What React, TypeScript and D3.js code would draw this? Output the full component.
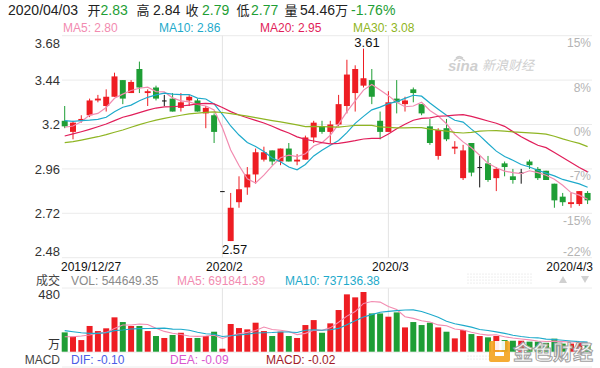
import React from 'react';
import * as d3 from 'd3';

// daily candles, 2019/12/27 .. 2020/4/3
const opens = [
  3.22, 3.16, 3.22, 3.25, 3.33, 3.30, 3.35, 3.44, 3.37, 3.50,
  3.37, 3.40, 3.33, 3.34, 3.29, 3.33, 3.33, 3.26, 3.25, 2.84,
  2.57, 2.78, 2.86, 2.93, 3.01, 3.06, 3.00, 3.07, 3.00, 3.01,
  3.13, 3.19, 3.16, 3.20, 3.30, 3.37, 3.41, 3.44, 3.22, 3.16,
  3.34, 3.31, 3.39, 3.31, 3.19, 3.03, 3.18, 3.07, 2.91, 3.10,
  2.97, 2.99, 2.91, 2.99, 2.92, 2.94, 3.00, 2.96, 2.95, 2.88,
  2.81, 2.77, 2.77, 2.83,
];
const closes = [
  3.19, 3.21, 3.23, 3.33, 3.34, 3.35, 3.46, 3.34, 3.43, 3.40,
  3.38, 3.34, 3.33, 3.27, 3.32, 3.35, 3.27, 3.29, 3.16, 2.84,
  2.75, 2.85, 2.93, 3.05, 3.05, 3.00, 3.07, 3.00, 3.01, 3.13,
  3.21, 3.16, 3.20, 3.31, 3.47, 3.50, 3.45, 3.35, 3.16, 3.32,
  3.32, 3.33, 3.37, 3.26, 3.10, 3.17, 3.12, 3.08, 3.06, 2.94,
  2.97, 2.90, 2.96, 2.97, 2.90, 2.94, 2.98, 2.91, 2.90, 2.79,
  2.78, 2.78, 2.84, 2.79,
];
const highs = [
  3.30, 3.22, 3.25, 3.34, 3.36, 3.39, 3.48, 3.44, 3.44, 3.54,
  3.39, 3.41, 3.36, 3.37, 3.37, 3.36, 3.34, 3.30, 3.26, 2.84,
  2.83, 2.92, 2.97, 3.07, 3.08, 3.06, 3.07, 3.10, 3.04, 3.14,
  3.22, 3.22, 3.22, 3.36, 3.55, 3.52, 3.61, 3.50, 3.27, 3.38,
  3.44, 3.35, 3.40, 3.31, 3.23, 3.18, 3.23, 3.11, 3.09, 3.10,
  3.03, 3.03, 2.97, 3.00, 2.96, 2.96, 3.01, 2.97, 2.95, 2.88,
  2.83, 2.83, 2.84, 2.84,
];
const lows = [
  3.18, 3.12, 3.21, 3.24, 3.32, 3.27, 3.35, 3.31, 3.37, 3.37,
  3.30, 3.33, 3.30, 3.27, 3.27, 3.30, 3.27, 3.18, 3.10, 2.84,
  2.57, 2.75, 2.82, 2.88, 3.00, 2.98, 2.98, 3.00, 2.98, 3.01,
  3.10, 3.15, 3.10, 3.19, 3.26, 3.27, 3.40, 3.31, 3.12, 3.16,
  3.26, 3.27, 3.32, 3.25, 3.09, 3.01, 3.11, 3.04, 2.90, 2.92,
  2.86, 2.89, 2.84, 2.92, 2.88, 2.88, 2.96, 2.90, 2.90, 2.75,
  2.76, 2.75, 2.76, 2.77,
];
// volume in 万手
const volumes = [
  148, 115, 89, 197, 158, 179, 263, 227, 197, 197,
  158, 120, 105, 128, 145, 105, 105, 120, 153, 23,
  212, 181, 171, 222, 158, 120, 153, 120, 105, 204,
  242, 145, 217, 319, 439, 416, 457, 293, 293, 268,
  301, 186, 227, 204, 222, 186, 153, 102, 166, 135,
  120, 110, 120, 89, 84, 84, 77, 77, 68, 100,
  62, 62, 68, 54.46,
];

// MA values for the first days (window starts before the view)
const ma5Lead = [3.185, 3.192, 3.215, 3.251];
const ma10Lead = [3.221, 3.217, 3.221, 3.224, 3.228, 3.239, 3.269, 3.293, 3.305];
const ma20Lead = [
  3.138, 3.149, 3.161, 3.174, 3.188, 3.203, 3.221, 3.239, 3.251, 3.264,
  3.278, 3.289, 3.295, 3.296, 3.300, 3.305, 3.311, 3.314, 3.311,
];
const ma30Lead = [
  3.102, 3.107, 3.116, 3.125, 3.134, 3.145, 3.158, 3.170, 3.185, 3.199,
  3.212, 3.224, 3.233, 3.242, 3.250, 3.257, 3.262, 3.266, 3.268, 3.265,
  3.259, 3.252, 3.245, 3.237, 3.229, 3.221, 3.214, 3.206, 3.198,
];
const volMa5Lead = [115, 115, 120, 128];
const volMa10Lead = [161, 153, 145, 140, 140, 145, 161, 166, 174];

const priceTicks = [3.68, 3.44, 3.2, 2.96, 2.72, 2.48];
const priceTickLabels = ['3.68', '3.44', '3.2', '2.96', '2.72', '2.48'];
const pctTickLabels = ['15%', '8%', '0%', '-7%', '-15%', '-22%'];
const dateTickIdx = [0, 19, 39, 63];
const dateTickLabels = ['2019/12/27', '2020/2', '2020/3', '2020/4/3'];

const FONT = '"Liberation Sans", Arial, "Noto Sans CJK SC", sans-serif';
const CJK = '"Noto Sans CJK SC", "Liberation Sans", sans-serif';
const RED = '#ee1d23';
const GREEN = '#1e9e35';
const C_MA5 = '#f28bb0';
const C_MA10 = '#1eaacb';
const C_MA20 = '#e11e5a';
const C_MA30 = '#8fb523';

const movingAvg = (vals: number[], n: number, lead: number[]) =>
  vals.map((_, i) => (i < n - 1 ? lead[i] : (d3.mean(vals.slice(i - n + 1, i + 1)) as number)));

const App = () => {
  const n = opens.length;
  const x = d3.scaleBand<number>().domain(d3.range(n)).range([60.55, 591.75])
    .paddingInner(0.28).paddingOuter(0.14);
  const bw = x.bandwidth();
  const cx = (i: number) => (x(i) as number) + bw / 2;
  const y = d3.scaleLinear().domain([2.48, 3.68]).range([257.7, 35.7]);
  const vy = d3.scaleLinear().domain([0, 480]).range([351.7, 289]);
  const left = 62, right = 592;

  const priceLine = d3.line<number>().x((_, i) => cx(i)).y(v => y(v));
  const volLine = d3.line<number>().x((_, i) => cx(i)).y(v => vy(v));

  const maLines = [
    { vals: movingAvg(closes, 5, ma5Lead), color: C_MA5 },
    { vals: movingAvg(closes, 10, ma10Lead), color: C_MA10 },
    { vals: movingAvg(closes, 20, ma20Lead), color: C_MA20 },
    { vals: movingAvg(closes, 30, ma30Lead), color: C_MA30 },
  ];
  const volMa5 = movingAvg(volumes, 5, volMa5Lead);
  const volMa10 = movingAvg(volumes, 10, volMa10Lead);

  const hiIdx = d3.maxIndex(highs);
  const loIdx = d3.minIndex(lows);

  const candleColor = (i: number) =>
    closes[i] > opens[i] ? RED : closes[i] < opens[i] ? GREEN : '#111';

  // dotted scroll hints near the right
  const dots: JSX.Element[] = [];
  for (let r = 0; r < 4; r++) {
    for (let c = 0; c < 22; c++) {
      dots.push(<circle key={`d${r}-${c}`} cx={468 + c * 3} cy={274 + r * 3} r={0.6} fill="#d8d8d8" />);
    }
  }
  for (let r = 0; r < 2; r++) {
    for (let c = 0; c < 10; c++) {
      dots.push(<circle key={`e${r}-${c}`} cx={468 + c * 3} cy={356 + r * 3} r={0.6} fill="#d8d8d8" />);
    }
  }

  return (
    <svg width={600} height={368} style={{ position: 'absolute', left: 0, top: 0, background: '#fff' }}
      fontFamily={FONT}>
      {/* header */}
      <g fontSize={14}>
        <text x={8} y={15} fill="#222">2020/04/03</text>
        <text x={87.5} y={15} fill="#222" fontFamily={CJK} fontSize={13}>开</text>
        <text x={100.5} y={15} fill={GREEN}>2.83</text>
        <text x={136.5} y={15} fill="#222" fontFamily={CJK} fontSize={13}>高</text>
        <text x={153} y={15} fill="#222">2.84</text>
        <text x={185.5} y={15} fill="#222" fontFamily={CJK} fontSize={13}>收</text>
        <text x={202} y={15} fill={GREEN}>2.79</text>
        <text x={236.5} y={15} fill="#222" fontFamily={CJK} fontSize={13}>低</text>
        <text x={251} y={15} fill={GREEN}>2.77</text>
        <text x={284.5} y={15} fill="#222" fontFamily={CJK} fontSize={13}>量</text>
        <text x={300} y={15} fill="#222">54.46<tspan fontFamily={CJK} fontSize={13}>万</tspan></text>
        <text x={351} y={15} fill={GREEN}>-1.76%</text>
      </g>
      <g fontSize={12}>
        <text x={63} y={31.5} fill={C_MA5}>MA5: 2.80</text>
        <text x={159} y={31.5} fill={C_MA10}>MA10: 2.86</text>
        <text x={260} y={31.5} fill={C_MA20}>MA20: 2.95</text>
        <text x={353} y={31.5} fill={C_MA30}>MA30: 3.08</text>
      </g>

      {/* price grid */}
      {priceTicks.map(t => (
        <line key={`g${t}`} x1={left} x2={right} y1={y(t)} y2={y(t)} stroke="#ebebeb" strokeWidth={1} />
      ))}
      {dateTickIdx.slice(1, 3).map(i => (
        <g key={`v${i}`}>
          <line x1={cx(i)} x2={cx(i)} y1={y(3.68)} y2={y(2.48)} stroke="#e4e4e4" />
          <line x1={cx(i)} x2={cx(i)} y1={288} y2={vy(0)} stroke="#e4e4e4" />
        </g>
      ))}
      {priceTicks.map((t, k) => {
        const last = k === priceTicks.length - 1;
        const yy = k === 0 ? y(t) + 12 : last ? y(t) - 1.5 : y(t) + 4.7;
        return <text key={`pl${t}`} x={60} y={yy} textAnchor="end" fontSize={13} fill="#333">{priceTickLabels[k]}</text>;
      })}
      {priceTicks.map((t, k) => {
        const last = k === priceTicks.length - 1;
        const yy = last ? y(t) - 1.8 : y(t) + 11.5;
        return <text key={`pc${t}`} x={591} y={yy} textAnchor="end" fontSize={12} fill="#b4b4b4">{pctTickLabels[k]}</text>;
      })}

      {/* sina watermark */}
      <g fill="#cfcfcf" fontStyle="italic">
        <path d="M454,61 q5,-6 11,0 M456,58 q3,-3 7,0" fill="none" stroke="#cfcfcf" strokeWidth={1.3} />
        <text x={448} y={71} fontSize={15} fontWeight="bold">sina</text>
        <text x={482} y={70} fontSize={13} fontFamily={CJK}>新浪财经</text>
      </g>

      {/* candles */}
      {opens.map((o, i) => {
        const c = closes[i];
        const col = candleColor(i);
        const top = y(Math.max(o, c));
        const h = Math.max(1, y(Math.min(o, c)) - top);
        const doji = o === c;
        return (
          <g key={`c${i}`}>
            <line x1={cx(i)} x2={cx(i)} y1={y(highs[i])} y2={y(lows[i])} stroke={col} strokeWidth={1} />
            <rect x={doji ? cx(i) - 2.3 : (x(i) as number)} y={top} width={doji ? 4.6 : bw} height={h} fill={col} />
          </g>
        );
      })}

      {/* MA lines */}
      {maLines.map((m, k) => (
        <path key={`ma${k}`} d={priceLine(m.vals) as string} fill="none" stroke={m.color} strokeWidth={1.2} />
      ))}

      {/* high / low marks */}
      <text x={cx(hiIdx) + 3.5} y={y(highs[hiIdx]) - 1.5} textAnchor="middle" fontSize={13} fill="#111">
        {highs[hiIdx].toFixed(2)}
      </text>
      <text x={cx(loIdx) + 4} y={y(lows[loIdx]) + 12.5} textAnchor="middle" fontSize={13} fill="#111">
        {lows[loIdx].toFixed(2)}
      </text>

      {/* date axis */}
      {dateTickIdx.map((i, k) => {
        const anchor = k === 0 ? 'start' : k === dateTickIdx.length - 1 ? 'end' : 'middle';
        const xx = k === 0 ? 61 : k === dateTickIdx.length - 1 ? 593 : cx(i) + 2;
        return <text key={`dt${i}`} x={xx} y={270.8} textAnchor={anchor} fontSize={12} fill="#111">{dateTickLabels[k]}</text>;
      })}

      {/* volume panel */}
      <g fontSize={12}>
        <text x={60} y={284.6} textAnchor="end" fill="#444" fontFamily={CJK} fontSize={12}>成交</text>
        <text x={71} y={284.6} fill="#8a8a8a">VOL: 544649.35</text>
        <text x={177} y={284.6} fill={C_MA5}>MA5: 691841.39</text>
        <text x={285} y={284.6} fill={C_MA10}>MA10: 737136.38</text>
      </g>
      {dots}
      <path d="M559,283 l4,-7 l4,7 z" fill="#d0d0d0" />
      <path d="M581,276 l4,7 l4,-7 z" fill="#d0d0d0" />
      <line x1={left} x2={right} y1={288} y2={288} stroke="#ececec" />
      <line x1={left} x2={right} y1={vy(0) + 0.5} y2={vy(0) + 0.5} stroke="#ececec" />
      <text x={60} y={298.5} textAnchor="end" fontSize={13} fill="#333">480</text>
      <text x={60} y={349.3} textAnchor="end" fontSize={12} fill="#333" fontFamily={CJK}>万</text>
      {volumes.map((v, i) => (
        <rect key={`vb${i}`} x={x(i) as number} y={vy(v)} width={bw} height={vy(0) - vy(v)}
          fill={closes[i] >= opens[i] ? RED : GREEN} />
      ))}
      <path d={volLine(volMa5) as string} fill="none" stroke={C_MA5} strokeWidth={1.1} />
      <path d={volLine(volMa10) as string} fill="none" stroke={C_MA10} strokeWidth={1.1} />

      {/* MACD header */}
      <g fontSize={12}>
        <text x={60} y={363.6} textAnchor="end" fill="#444">MACD</text>
        <text x={71} y={363.6} fill="#4b5de6">DIF: -0.10</text>
        <text x={170} y={363.6} fill="#d957cf">DEA: -0.09</text>
        <text x={266} y={363.6} fill="#a01c28">MACD: -0.02</text>
      </g>
      <line x1={left} x2={right} y1={367} y2={367} stroke="#ececec" />

      {/* jinse watermark */}
      <g opacity={0.92}>
        <rect x={489} y={341} width={21} height={21} rx={2} fill="#f5a623" />
        <rect x={495} y={341} width={10} height={9} fill="#fff" />
        <rect x={495} y={352} width={9} height={4} fill="#fff" />
        <text x={513} y={360} fontSize={20} fontWeight="bold" fontFamily={CJK}
          fill="#fff" stroke="#9a9a9a" strokeWidth={1}>金色财经</text>
      </g>
    </svg>
  );
};

export default App;
